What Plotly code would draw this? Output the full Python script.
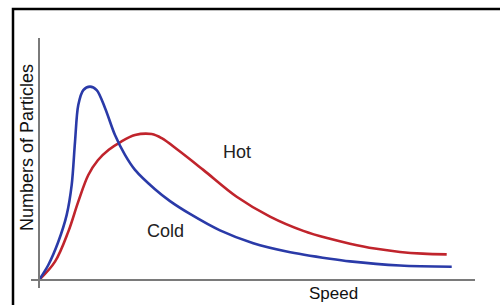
import plotly.graph_objects as go

# Data (speed 0..100, particle count 0..100 arbitrary units)
cold_speed = [0, 2.13, 4.43, 6.35, 7.5, 8.26, 9.01, 10.16, 11.7, 13.23, 15.14, 17.43, 19.72, 22.02,
              26.6, 30.05, 34.63, 41.51, 49.15, 56.81, 66.74, 71.33, 82.8, 94.66]
cold_count = [0, 6.2, 15.8, 26.9, 39.3, 57.1, 72.3, 78.5, 79.9, 78.5, 71.1, 59.9, 51.7, 45.5,
              37.5, 32.6, 27.3, 20.5, 15.2, 11.8, 8.8, 7.7, 6.0, 5.5]

hot_speed = [0, 3.67, 6.72, 9.01, 11.31, 13.5, 16.0, 18.58, 22.02, 25.85, 28.14, 31.88, 37.68,
             45.34, 52.98, 60.62, 66.74, 71.33, 77.0, 82.8, 88.0, 93.51]
hot_count = [0, 7.6, 20.0, 32.4, 43.4, 49.5, 53.8, 56.9, 59.9, 60.3, 58.6, 53.7, 45.5,
             34.4, 26.2, 20.3, 17.0, 15.0, 13.0, 11.6, 10.9, 10.6]

labels = {"hot": "Hot", "cold": "Cold", "x": "Speed", "y": "Numbers of Particles"}

FONT = "Liberation Sans, Arial, sans-serif"

fig = go.Figure()
fig.add_trace(go.Scatter(x=hot_speed, y=hot_count, mode="lines",
                         line=dict(color="#c0242c", width=2.6, shape="spline", smoothing=1.0),
                         hoverinfo="skip", showlegend=False))
fig.add_trace(go.Scatter(x=cold_speed, y=cold_count, mode="lines",
                         line=dict(color="#2a3aa8", width=2.6, shape="spline", smoothing=0.9),
                         hoverinfo="skip", showlegend=False))

L, R, T, B = 39, 25, 38, 25
W, H = 500, 305
pw, ph = W - L - R, H - T - B

def px2paper_x(px):
    return (px - L) / pw

def py2paper_y(py):
    return (H - B - py) / ph

shapes = [
    # outer black frame (top and left visible)
    dict(type="rect", xref="paper", yref="paper",
         x0=px2paper_x(13), x1=px2paper_x(510), y0=py2paper_y(315), y1=py2paper_y(9),
         line=dict(color="black", width=2.5), fillcolor="rgba(0,0,0,0)", layer="below"),
    # y axis line
    dict(type="line", xref="paper", yref="paper",
         x0=px2paper_x(39), x1=px2paper_x(39), y0=py2paper_y(288), y1=py2paper_y(38),
         line=dict(color="#7a7a7a", width=2)),
    # x axis line
    dict(type="line", xref="paper", yref="paper",
         x0=px2paper_x(31), x1=px2paper_x(475), y0=py2paper_y(280), y1=py2paper_y(280),
         line=dict(color="#7a7a7a", width=2)),
]

common = dict(showarrow=False, xanchor="center", yanchor="middle")
annotations = [
    dict(text=labels["hot"], x=45.4, y=52.9, xref="x", yref="y",
         font=dict(family=FONT, size=18, color="#222"), **common),
    dict(text=labels["cold"], x=28.9, y=20.2, xref="x", yref="y",
         font=dict(family=FONT, size=18, color="#222"), **common),
    dict(text=labels["x"], x=px2paper_x(333), y=py2paper_y(293), xref="paper", yref="paper",
         font=dict(family=FONT, size=17, color="#111"), **common),
    dict(text=labels["y"], x=px2paper_x(27), y=py2paper_y(148), xref="paper", yref="paper",
         textangle=-90, font=dict(family=FONT, size=18, color="#111"), **common),
]

fig.update_layout(
    width=W, height=H,
    margin=dict(l=L, r=R, t=T, b=B),
    paper_bgcolor="white", plot_bgcolor="white",
    xaxis=dict(range=[0, 100], visible=False, fixedrange=True),
    yaxis=dict(range=[0, 100], visible=False, fixedrange=True),
    shapes=shapes, annotations=annotations,
    showlegend=False,
)

fig.write_html("out.html", config={"displayModeBar": False},
               post_script="document.body.style.margin='0';document.body.style.overflow='hidden';")
